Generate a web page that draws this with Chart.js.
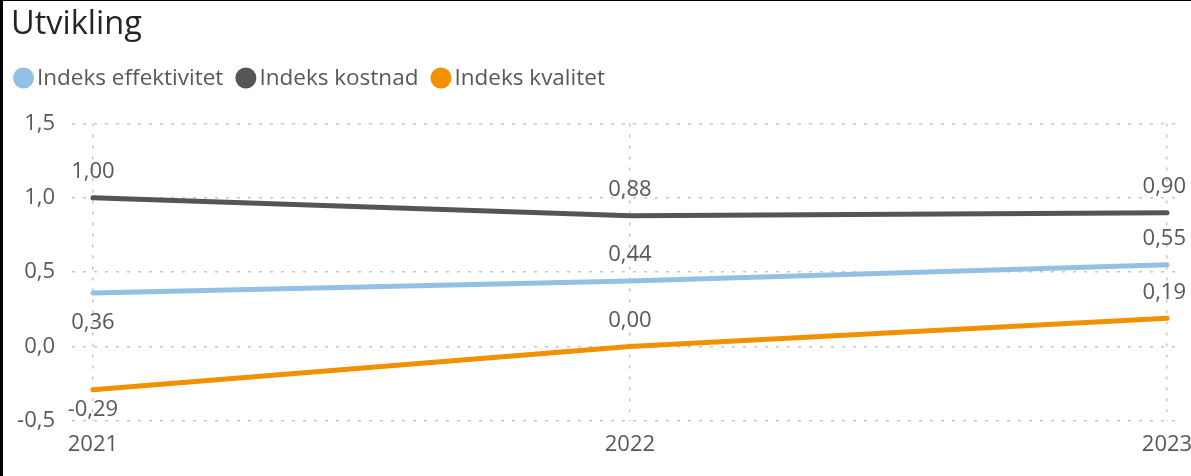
<!DOCTYPE html>
<html>
<head>
<meta charset="utf-8">
<script src="https://cdn.jsdelivr.net/npm/chart.js@4/dist/chart.umd.min.js"></script>
<style>
  html, body { margin: 0; padding: 0; background: #fff; }
  #wrap {
    width: 1191px; height: 476px; box-sizing: border-box;
    border-left: 3px solid #000; border-top: 1px solid #000;
    position: relative;
  }
</style>
</head>
<body>
<div id="wrap"><canvas id="myChart"></canvas></div>
<script>
  const years = [2021, 2022, 2023]
  const effektivitet = [0.36, 0.44, 0.55]
  const kostnad = [1.00, 0.88, 0.90]
  const kvalitet = [-0.29, 0.00, 0.19]
  const yTicks = [-0.5, 0, 0.5, 1.0, 1.5]

  const FONT = '"Open Sans", "DejaVu Sans", sans-serif'
  const TEXT = '#5A5856'
  const GRID = '#C8C6C4'

  const comma = (v, d) => v.toFixed(d).replace('.', ',')

  // legend drawn by hand: round markers sitting tight against their text
  const legendPlugin = {
    id: 'roundLegend',
    afterDraw(chart) {
      const ctx = chart.ctx
      ctx.save()
      ctx.font = '22.5px ' + FONT
      ctx.textBaseline = 'middle'
      let x = 10
      const y = 77
      chart.data.datasets.forEach(ds => {
        ctx.fillStyle = ds.borderColor
        ctx.beginPath()
        ctx.arc(x + 10.5, y, 10.5, 0, Math.PI * 2)
        ctx.fill()
        x += 24
        ctx.fillStyle = TEXT
        ctx.fillText(ds.label, x, y + 1)
        x += ctx.measureText(ds.label).width + 12
      })
      ctx.restore()
    }
  }

  // value labels above or below each point, kept inside the plot box
  const valueLabels = {
    id: 'valueLabels',
    afterDatasetsDraw(chart) {
      const ctx = chart.ctx
      const area = chart.chartArea
      ctx.save()
      ctx.font = '22px ' + FONT
      ctx.fillStyle = TEXT
      ctx.textAlign = 'center'
      ctx.textBaseline = 'middle'
      chart.data.datasets.forEach((ds, i) => {
        const meta = chart.getDatasetMeta(i)
        meta.data.forEach((pt, j) => {
          const txt = comma(ds.data[j], 2)
          const w = ctx.measureText(txt).width
          let x = pt.x
          if (x + w / 2 > chart.width - 5) x = chart.width - 5 - w / 2
          const below = ds.labelPos[j] === 'below'
          let y = below ? pt.y + 30 : pt.y - 26
          y = Math.min(y, area.bottom - 11)
          ctx.fillText(txt, x, y)
        })
      })
      ctx.restore()
    }
  }

  const line = (label, data, color, labelPos) => ({
    label, data, labelPos,
    borderColor: color,
    backgroundColor: color,
    borderWidth: 5,
    borderCapStyle: 'round',
    borderJoinStyle: 'round',
    pointRadius: 0,
    pointHoverRadius: 0,
    tension: 0,
  })

  const axisFont = { size: 22, family: FONT }

  let myChart = new Chart(document.getElementById('myChart'), {
    type: 'line',
    data: {
      labels: years,
      datasets: [
        line('Indeks effektivitet', effektivitet, '#94C0E3', ['below', 'above', 'above']),
        line('Indeks kostnad', kostnad, '#555555', ['above', 'above', 'above']),
        line('Indeks kvalitet', kvalitet, '#F29100', ['below', 'above', 'above']),
      ]
    },
    plugins: [legendPlugin, valueLabels],
    options: {
      responsive: true,
      maintainAspectRatio: false,
      animation: false,
      layout: { padding: { left: 8, right: 9, top: 0, bottom: 0 } },
      plugins: {
        title: {
          display: true,
          text: 'Utvikling',
          align: 'start',
          color: '#252423',
          font: { size: 32.5, family: FONT, weight: 'normal', lineHeight: 1.15 },
          padding: { top: 5, bottom: 80 }
        },
        legend: { display: false },
        tooltip: { enabled: false }
      },
      scales: {
        x: {
          type: 'linear',
          min: 2020.961,
          max: 2023.028,
          afterBuildTicks: s => { s.ticks = years.map(v => ({ value: v })) },
          afterFit: s => { s.height = 55; s.paddingLeft = 0; s.paddingRight = 0 },
          border: { display: false, dash: [3, 8] },
          grid: { color: GRID, lineWidth: 1.5, drawTicks: false },
          ticks: {
            padding: 11,
            color: TEXT,
            font: axisFont,
            callback: v => String(v)
          }
        },
        y: {
          min: -0.5,
          max: 1.5,
          afterBuildTicks: s => { s.ticks = yTicks.map(v => ({ value: v })) },
          afterFit: s => { s.width = 61 },
          border: { display: false, dash: [3, 8] },
          grid: { color: GRID, lineWidth: 1.5, drawTicks: false },
          ticks: {
            padding: 17,
            color: TEXT,
            font: axisFont,
            callback: v => comma(v, 1)
          }
        }
      }
    }
  })
</script>
</body>
</html>
